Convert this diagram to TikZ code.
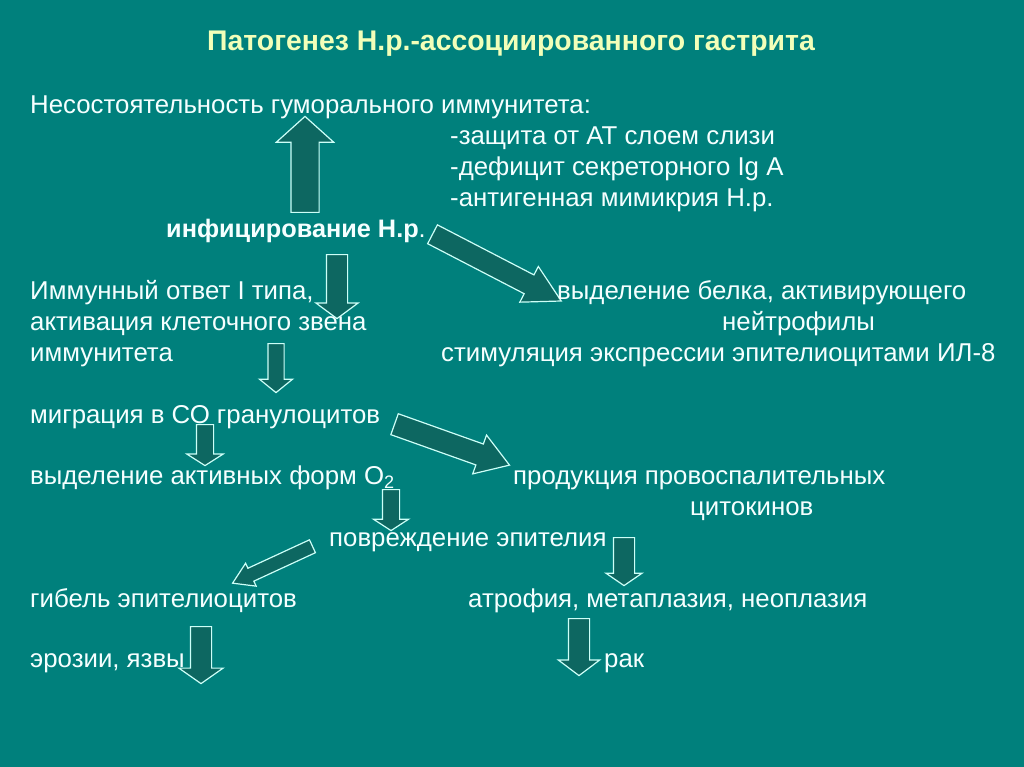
\documentclass[tikz,border=0pt]{standalone}
\usepackage{fontspec}
\setmainfont{Liberation Sans}
\usetikzlibrary{shapes.arrows}
\definecolor{slidebg}{RGB}{0,128,124}
\definecolor{arrowfill}{RGB}{13,103,97}
\definecolor{arrowline}{RGB}{205,255,248}
\definecolor{textwhite}{RGB}{245,255,255}
\definecolor{titleyellow}{RGB}{242,255,185}

\begin{document}
\begin{tikzpicture}[
    x=1pt, y=-1pt,
    every node/.style={font=\fontsize{25.8}{30}\selectfont, text=textwhite, inner sep=0pt, anchor=base west},
    titletext/.style={font=\fontsize{28.4}{32}\selectfont\bfseries, text=titleyellow, anchor=base},
    blockarr/.style n args={4}{single arrow, draw=arrowline, fill=arrowfill, line width=1.2pt, anchor=tail, inner xsep=0pt, inner ysep=#2, single arrow head extend=#3, minimum height=#1, single arrow tip angle=#4}
]
\fill[slidebg] (0,0) rectangle (1024,767);
\useasboundingbox (0,0) rectangle (1024,767);

% block arrows
\node[blockarr={96pt}{13.5pt}{14.5pt}{96}, rotate=90] (toHumoral) at (305,213) {};
\node[blockarr={145pt}{10pt}{9.5pt}{58}, rotate=-27.4] (toProtein) at (432,234) {};
\node[blockarr={64pt}{10pt}{10.5pt}{107}, rotate=-90] (toImmune) at (337,254) {};
\node[blockarr={49pt}{7.5pt}{8.5pt}{102}, rotate=-90] (toMigration) at (276,343) {};
\node[blockarr={122pt}{10.5pt}{9.5pt}{66}, rotate=-19.6] (toCytokines) at (394,424) {};
\node[blockarr={41pt}{8pt}{9.5pt}{115}, rotate=-90] (toOxygen) at (205,424) {};
\node[blockarr={41pt}{8pt}{9pt}{114}, rotate=-90] (toDamage) at (391,489) {};
\node[blockarr={48pt}{10pt}{7.5pt}{111}, rotate=-90] (toAtrophy) at (624,537) {};
\node[blockarr={88pt}{6.5pt}{5.5pt}{64}, rotate=-155.2] (toDeath) at (313,546) {};
\node[blockarr={57pt}{10pt}{11.5pt}{110}, rotate=-90] (toErosion) at (201,626) {};
\node[blockarr={57pt}{10pt}{10pt}{106}, rotate=-90] (toCancer) at (579,618) {};

% texts
\node[titletext] (title) at (511,51) {Патогенез Н.р.-ассоциированного гастрита};
\node (humoral) at (30,114) {Несостоятельность гуморального иммунитета:};
\node (mucus) at (450,145) {-защита от АТ слоем слизи};
\node (siga) at (450,176) {-дефицит секреторного Ig A};
\node (mimicry) at (450,207) {-антигенная мимикрия Н.р.};
\node[font=\fontsize{25.3}{30}\selectfont] (infection) at (166,237) {{\bfseries инфицирование Н.р}.};

\node (immune1) at (30,299) {Иммунный ответ I типа,};
\node (immune2) at (30,330) {активация клеточного звена};
\node (immune3) at (30,361) {иммунитета};
\node (protein1) at (557,299) {выделение белка, активирующего};
\node (protein2) at (722,330) {нейтрофилы};
\node (il8) at (441,361) {стимуляция экспрессии эпителиоцитами ИЛ-8};

\node (migration) at (30,423) {миграция в СО гранулоцитов};
\node (oxygen) at (30,484) {выделение активных форм О\textsubscript{2}};
\node (cytok1) at (513,484) {продукция провоспалительных};
\node (cytok2) at (690,515) {цитокинов};
\node (damage) at (329,546) {повреждение эпителия};

\node (death) at (30,607) {гибель эпителиоцитов};
\node (atrophy) at (468,607) {атрофия, метаплазия, неоплазия};
\node (erosion) at (30,667) {эрозии, язвы};
\node (cancer) at (604,667) {рак};
\end{tikzpicture}
\end{document}
